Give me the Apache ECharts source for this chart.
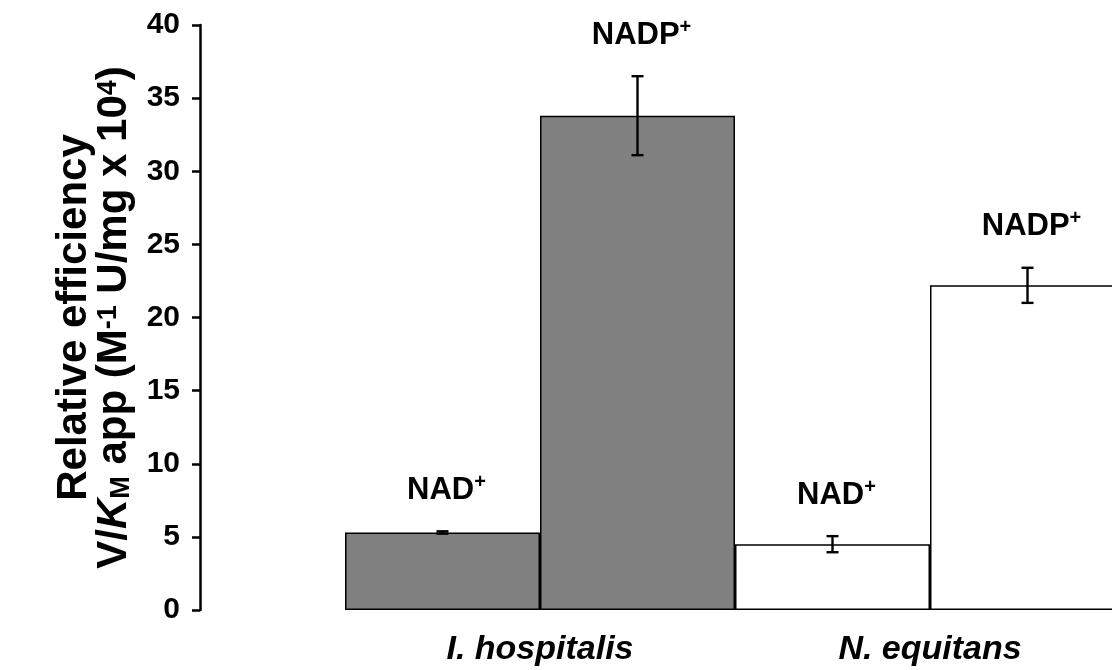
<!DOCTYPE html>
<html>
<head>
<meta charset="utf-8">
<script src="https://cdn.jsdelivr.net/npm/echarts@6/dist/echarts.min.js"></script>
<style>
  html, body { margin: 0; padding: 0; background: #ffffff; }
  #chart { width: 1112px; height: 670px; }
</style>
</head>
<body>
<div id="chart"></div>
<script>
// Organisms on the category axis
const categories = ['I. hospitalis', 'N. equitans'];
// Relative efficiency with NAD+ and NADP+ as cofactor, with error half-widths
const nadValues = [5.3, 4.5];
const nadErrors = [0.08, 0.55];
const nadpValues = [33.8, 22.2];
const nadpErrors = [2.7, 1.2];
// Y axis range and step
const yMin = 0;
const yMax = 40;
const yStep = 5;
// Fill per organism
const organismColors = ['#808080', '#ffffff'];

const FONT = '"Liberation Sans", Arial, sans-serif';

const chart = echarts.init(document.getElementById('chart'));

function barData(values) {
  return values.map((v, i) => ({
    value: v,
    itemStyle: { color: organismColors[i] }
  }));
}

// [category index, value, error, side (-1 = NAD+, +1 = NADP+)]
const errorData = [];
categories.forEach((c, i) => {
  errorData.push([i, nadValues[i], nadErrors[i], -1]);
  errorData.push([i, nadpValues[i], nadpErrors[i], 1]);
});

function renderError(params, api) {
  const cat = api.value(0);
  const val = api.value(1);
  const err = api.value(2);
  const side = api.value(3);
  const band = api.size([1, 0])[0];
  const x = api.coord([cat, val])[0] + side * band / 4;
  const yTop = api.coord([cat, val + err])[1];
  const yBot = api.coord([cat, val - err])[1];
  const cap = 6;
  const stroke = { stroke: '#000', lineWidth: 2.4 };
  const name = side < 0 ? 'NAD' : 'NADP';
  return {
    type: 'group',
    children: [
      { type: 'line', shape: { x1: x, y1: yTop, x2: x, y2: yBot }, style: stroke },
      { type: 'line', shape: { x1: x - cap, y1: yTop, x2: x + cap, y2: yTop }, style: stroke },
      { type: 'line', shape: { x1: x - cap, y1: yBot, x2: x + cap, y2: yBot }, style: stroke },
      {
        type: 'text',
        x: x + 4,
        y: yTop - 41,
        style: {
          text: '{b|' + name + '}{s|+}',
          align: 'center',
          verticalAlign: 'middle',
          rich: {
            b: { fontFamily: FONT, fontWeight: 'bold', fontSize: 31, lineHeight: 36, fill: '#000' },
            s: { fontFamily: FONT, fontWeight: 'bold', fontSize: 20, lineHeight: 36, verticalAlign: 'top', fill: '#000' }
          }
        }
      }
    ]
  };
}

const option = {
  animation: false,
  backgroundColor: '#ffffff',
  grid: { left: 345, top: 25, right: -13, bottom: 60, outerBoundsMode: 'none' },
  xAxis: {
    type: 'category',
    data: categories,
    axisLine: { show: false },
    axisTick: { show: false },
    axisLabel: {
      margin: 23,
      fontFamily: FONT,
      fontSize: 34,
      fontWeight: 'bold',
      fontStyle: 'italic',
      color: '#000'
    }
  },
  yAxis: {
    type: 'value',
    min: yMin,
    max: yMax,
    interval: yStep,
    offset: 145,
    splitLine: { show: false },
    axisLine: { show: true, lineStyle: { color: '#000', width: 2.5 } },
    axisTick: { show: true, inside: false, length: 8, lineStyle: { color: '#000', width: 2.5 } },
    axisLabel: {
      margin: 20,
      fontFamily: FONT,
      fontSize: 30,
      fontWeight: 'bold',
      color: '#000'
    },
    name: '{a|Relative efficiency}\n{a|V/}{i|K}{sub|M}{a| app (M}{sup|-1}{a| U/mg x 10}{sup|4}{a|)}',
    nameLocation: 'middle',
    nameGap: 56,
    nameTextStyle: {
      rich: {
        a: { fontFamily: FONT, fontWeight: 'bold', fontSize: 42, lineHeight: 40, color: '#000' },
        i: { fontFamily: FONT, fontWeight: 'bold', fontStyle: 'italic', fontSize: 42, lineHeight: 40, color: '#000' },
        sub: { fontFamily: FONT, fontWeight: 'bold', fontSize: 27, lineHeight: 40, verticalAlign: 'bottom', color: '#000' },
        sup: { fontFamily: FONT, fontWeight: 'bold', fontSize: 27, lineHeight: 40, verticalAlign: 'top', color: '#000' }
      }
    }
  },
  series: [
    {
      name: 'NAD+',
      type: 'bar',
      data: barData(nadValues),
      barGap: '0%',
      barCategoryGap: '0%',
      itemStyle: { borderColor: '#000', borderWidth: 1.5 }
    },
    {
      name: 'NADP+',
      type: 'bar',
      data: barData(nadpValues),
      barGap: '0%',
      barCategoryGap: '0%',
      itemStyle: { borderColor: '#000', borderWidth: 1.5 }
    },
    {
      name: 'error',
      type: 'custom',
      renderItem: renderError,
      data: errorData,
      clip: false,
      z: 5
    }
  ]
};

chart.setOption(option);
</script>
</body>
</html>
